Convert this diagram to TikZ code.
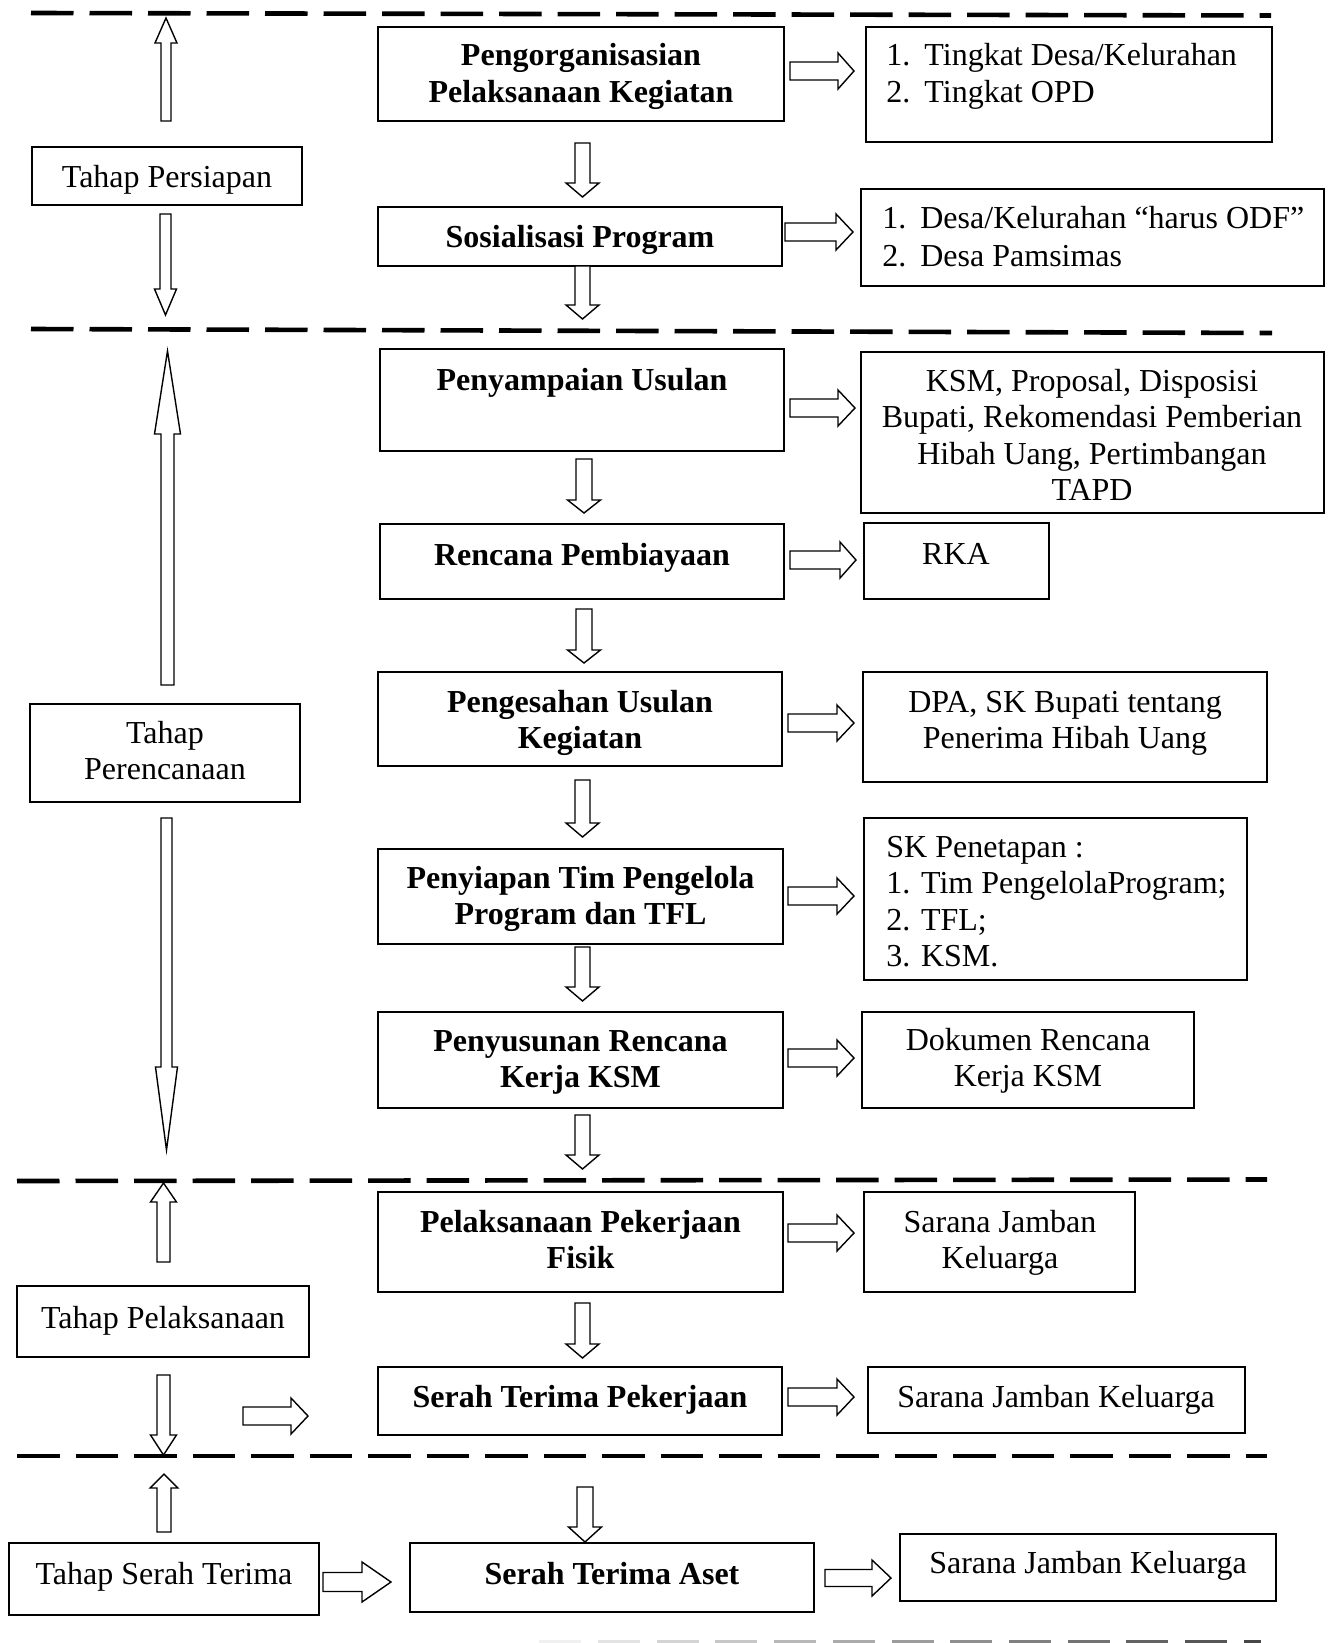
\documentclass[tikz,border=0pt]{standalone}
\usepackage{fontspec}
\setmainfont{Liberation Serif}
\usetikzlibrary{calc}
\tikzset{
  box/.style={draw, line width=0.9pt, inner sep=0pt},
  txt/.style={inner sep=0pt, font=\fontsize{16}{18.25}\selectfont},
  btxt/.style={inner sep=0pt, font=\fontsize{16}{18.25}\selectfont\bfseries},
  blockarrow/.style={draw, line width=0.7pt, fill=white, line join=miter},
  dashline/.style={line width=2.3pt, dash pattern=on 21.25pt off 8pt},
}
% box node from pixel corners
\newcommand{\mybox}[5]{\node[box, minimum width={(#4-#2)*0.5pt}, minimum height={(#5-#3)*0.5pt}] (#1) at ({(#2+#4)/2},{(#3+#5)/2}) {};}
% hollow block arrow: tail, tip, shaft half width, head half width, head length (px)
\newcommand{\blockarr}[5]{%
  \coordinate (hb) at ($(#2)!#5*0.5pt!(#1)$);
  \draw[blockarrow] ($(#1)!#3*0.5pt!90:(#2)$) -- ($(hb)!#3*0.5pt!90:(#2)$) -- ($(hb)!#4*0.5pt!90:(#2)$) -- (#2) -- ($(hb)!#4*0.5pt!-90:(#2)$) -- ($(hb)!#3*0.5pt!-90:(#2)$) -- ($(#1)!#3*0.5pt!-90:(#2)$) -- cycle;}
\begin{document}
\begin{tikzpicture}[x=0.5pt,y=-0.5pt]
\fill[white] (0,0) rectangle (1334,1643);
\useasboundingbox (0,0) rectangle (1334,1643);

% dashed separators
\draw[dashline] (31,13) -- (1271,15.5);
\draw[dashline] (31,329) -- (1272,333);
\draw[dashline] (17,1181) -- (1267,1179.5);
\draw[dashline] (17,1456) -- (1267,1456);
\foreach \i in {0,...,12}{
  \pgfmathsetmacro\xx{539.3+\i*58.7}
  \pgfmathsetmacro\ll{min(42,1261-\xx)}
  \pgfmathtruncatemacro\g{6+\i*5.5}
  \draw[line width=1.6pt, draw=black!\g] (\xx,1641.5) -- ++(\ll,0);
}

% left column boxes
\mybox{persiapan}{32}{147}{302}{205}
\mybox{perencanaan}{30}{704}{300}{802}
\mybox{pelaksanaan}{17}{1286}{309}{1357}
\mybox{serahterima}{9}{1543}{319}{1615}
\node[txt, anchor=base] (persiapanT) at (167,187) {Tahap Persiapan};
\node[txt, anchor=base] (perencanaanT) at (165,743) {\begin{tabular}[t]{@{}c@{}}Tahap\\Perencanaan\end{tabular}};
\node[txt, anchor=base] (pelaksanaanT) at (163,1328) {Tahap Pelaksanaan};
\node[txt, anchor=base] (serahterimaT) at (164,1584) {Tahap Serah Terima};

% middle column boxes
\mybox{org}{378}{27}{784}{121}
\mybox{sos}{378}{207}{782}{266}
\mybox{peny}{380}{349}{784}{451}
\mybox{renc}{380}{524}{784}{599}
\mybox{peng}{378}{672}{782}{766}
\mybox{penyi}{378}{849}{783}{944}
\mybox{penyu}{378}{1012}{783}{1108}
\mybox{pelak}{378}{1192}{783}{1292}
\mybox{stp}{378}{1367}{782}{1435}
\mybox{sta}{410}{1543}{814}{1612}
\node[btxt, anchor=base] (orgT) at (581,66) {\begin{tabular}[t]{@{}c@{}}Pengorganisasian\\Pelaksanaan Kegiatan\end{tabular}};
\node[btxt, anchor=base] (sosT) at (580,247) {Sosialisasi Program};
\node[btxt, anchor=base] (penyT) at (582,390) {Penyampaian Usulan};
\node[btxt, anchor=base] (rencT) at (582,565) {Rencana Pembiayaan};
\node[btxt, anchor=base] (pengT) at (580,712) {\begin{tabular}[t]{@{}c@{}}Pengesahan Usulan\\Kegiatan\end{tabular}};
\node[btxt, anchor=base] (penyiT) at (580.5,888) {\begin{tabular}[t]{@{}c@{}}Penyiapan Tim Pengelola\\Program dan TFL\end{tabular}};
\node[btxt, anchor=base] (penyuT) at (580.5,1051) {\begin{tabular}[t]{@{}c@{}}Penyusunan Rencana\\Kerja KSM\end{tabular}};
\node[btxt, anchor=base] (pelakT) at (580.5,1232) {\begin{tabular}[t]{@{}c@{}}Pelaksanaan Pekerjaan\\Fisik\end{tabular}};
\node[btxt, anchor=base] (stpT) at (580,1407) {Serah Terima Pekerjaan};
\node[btxt, anchor=base] (staT) at (612,1584) {Serah Terima Aset};

% right column boxes
\mybox{ra}{866}{27}{1272}{142}
\mybox{rb}{861}{189}{1324}{286}
\mybox{rc}{861}{352}{1324}{513}
\mybox{rd}{864}{523}{1049}{599}
\mybox{re}{863}{672}{1267}{782}
\mybox{rf}{864}{818}{1247}{980}
\mybox{rg}{862}{1012}{1194}{1108}
\mybox{rh}{864}{1192}{1135}{1292}
\mybox{ri}{868}{1367}{1245}{1433}
\mybox{rj}{900}{1534}{1276}{1601}
\node[txt, anchor=base west] (raT) at (886,66) {\begin{tabular}[t]{@{}l@{}}\makebox[19pt][l]{1.}Tingkat Desa/Kelurahan\\\makebox[19pt][l]{2.}Tingkat OPD\end{tabular}};
\node[txt, anchor=base west] (rbT) at (882,228) {\begin{tabular}[t]{@{}l@{}}\makebox[19pt][l]{1.}Desa/Kelurahan “harus ODF”\\[0.75pt]\makebox[19pt][l]{2.}Desa Pamsimas\end{tabular}};
\node[txt, anchor=base] (rcT) at (1092,391) {\begin{tabular}[t]{@{}c@{}}KSM, Proposal, Disposisi\\Bupati, Rekomendasi Pemberian\\Hibah Uang, Pertimbangan\\TAPD\end{tabular}};
\node[txt, anchor=base] (rdT) at (956,564) {RKA};
\node[txt, anchor=base] (reT) at (1065,712) {\begin{tabular}[t]{@{}c@{}}DPA, SK Bupati tentang\\Penerima Hibah Uang\end{tabular}};
\node[txt, anchor=base west] (rfT) at (886,857) {\begin{tabular}[t]{@{}l@{}}SK Penetapan :\\1. Tim PengelolaProgram;\\2. TFL;\\3. KSM.\end{tabular}};
\node[txt, anchor=base] (rgT) at (1028,1050) {\begin{tabular}[t]{@{}c@{}}Dokumen Rencana\\Kerja KSM\end{tabular}};
\node[txt, anchor=base] (rhT) at (1000,1232) {\begin{tabular}[t]{@{}c@{}}Sarana Jamban\\Keluarga\end{tabular}};
\node[txt, anchor=base] (riT) at (1056,1407) {Sarana Jamban Keluarga};
\node[txt, anchor=base] (rjT) at (1088,1573) {Sarana Jamban Keluarga};

% arrow end points
\coordinate (l1a) at (166,121);   \coordinate (l1b) at (166,18);
\coordinate (l2a) at (165.5,214); \coordinate (l2b) at (165.5,315);
\coordinate (l3a) at (167.5,685); \coordinate (l3b) at (167.5,351);
\coordinate (l4a) at (166.5,818); \coordinate (l4b) at (166.5,1150);
\coordinate (l5a) at (163.5,1262); \coordinate (l5b) at (163.5,1183);
\coordinate (l6a) at (163.5,1375); \coordinate (l6b) at (163.5,1455);
\coordinate (l7a) at (243,1416);  \coordinate (l7b) at (308,1416);
\coordinate (l8a) at (164,1532);  \coordinate (l8b) at (164,1474);
\coordinate (l9a) at (323,1582);  \coordinate (l9b) at (391,1582);

\coordinate (m1a) at (582.5,143);  \coordinate (m1b) at (582.5,197);
\coordinate (m2a) at (582.5,266);  \coordinate (m2b) at (582.5,319);
\coordinate (m3a) at (584,459);    \coordinate (m3b) at (584,513);
\coordinate (m4a) at (584,609);    \coordinate (m4b) at (584,663);
\coordinate (m5a) at (582.5,780);  \coordinate (m5b) at (582.5,837);
\coordinate (m6a) at (582.5,947);  \coordinate (m6b) at (582.5,1001);
\coordinate (m7a) at (582.5,1115); \coordinate (m7b) at (582.5,1169);
\coordinate (m8a) at (582.5,1303); \coordinate (m8b) at (582.5,1358);
\coordinate (m9a) at (585,1487);   \coordinate (m9b) at (585,1542);

\coordinate (r1a) at (790,71);   \coordinate (r1b) at (854,71);
\coordinate (r2a) at (785,232);  \coordinate (r2b) at (853,232);
\coordinate (r3a) at (790,408);  \coordinate (r3b) at (855,408);
\coordinate (r4a) at (790,560);  \coordinate (r4b) at (856,560);
\coordinate (r5a) at (788,723);  \coordinate (r5b) at (854,723);
\coordinate (r6a) at (788,896);  \coordinate (r6b) at (854,896);
\coordinate (r7a) at (788,1058); \coordinate (r7b) at (854,1058);
\coordinate (r8a) at (788,1233); \coordinate (r8b) at (854,1233);
\coordinate (r9a) at (788,1397); \coordinate (r9b) at (854,1397);
\coordinate (r10a) at (825,1578); \coordinate (r10b) at (891,1578);

% left arrows
\blockarr{l1a}{l1b}{5}{11}{25}
\blockarr{l2a}{l2b}{5.5}{11}{26}
\blockarr{l3a}{l3b}{6.5}{13}{83}
\blockarr{l4a}{l4b}{5.5}{11}{83}
\blockarr{l5a}{l5b}{6.5}{13}{19}
\blockarr{l6a}{l6b}{6.5}{13}{20}
\blockarr{l7a}{l7b}{9}{18}{17}
\blockarr{l8a}{l8b}{7}{14}{14}
\blockarr{l9a}{l9b}{9.5}{20}{29}
% middle arrows
\blockarr{m1a}{m1b}{7.5}{16.5}{14}
\blockarr{m2a}{m2b}{7.5}{16.5}{14}
\blockarr{m3a}{m3b}{8}{16.5}{13}
\blockarr{m4a}{m4b}{8}{16.5}{13}
\blockarr{m5a}{m5b}{7.5}{16.5}{14}
\blockarr{m6a}{m6b}{7.5}{16.5}{14}
\blockarr{m7a}{m7b}{7.5}{16.5}{14}
\blockarr{m8a}{m8b}{7.5}{16.5}{14}
\blockarr{m9a}{m9b}{8}{16.5}{15}
% right arrows
\blockarr{r1a}{r1b}{9}{18}{16}
\blockarr{r2a}{r2b}{9}{18}{17}
\blockarr{r3a}{r3b}{9}{18}{17}
\blockarr{r4a}{r4b}{9}{18}{16}
\blockarr{r5a}{r5b}{9}{18}{17}
\blockarr{r6a}{r6b}{9}{18}{17}
\blockarr{r7a}{r7b}{9}{18}{17}
\blockarr{r8a}{r8b}{9}{18}{17}
\blockarr{r9a}{r9b}{9}{18}{17}
\blockarr{r10a}{r10b}{8.5}{18}{19}
\end{tikzpicture}
\end{document}
